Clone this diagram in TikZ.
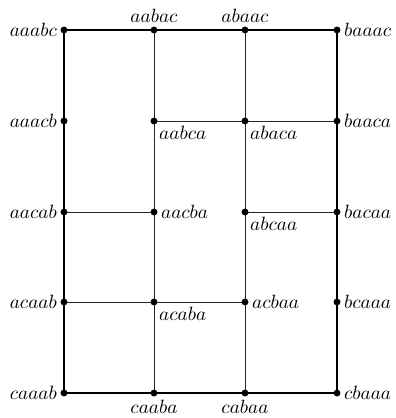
\documentclass[tikz,border=0pt]{standalone}
\begin{document}
\begin{tikzpicture}[x=0.52pt,y=-0.52pt,
  dot/.style={circle,fill=black,inner sep=0pt,minimum size=3.6pt},
  outer/.style={line width=1.5pt},
  inner/.style={line width=0.5pt,black!85},
  lbl/.style={inner sep=2.5pt}]
\useasboundingbox (0,0) rectangle (396,418);
% grid coordinates
\foreach \n/\x/\y in {aaabc/64/30, aabac/154/30, abaac/245/30, baaac/337/30,
  aaacb/64/121, aabca/154/121, abaca/245/121, baaca/337/121,
  aacab/64/212, aacba/154/212, abcaa/245/212, bacaa/337/212,
  acaab/64/302, acaba/154/302, acbaa/245/302, bcaaa/337/302,
  caaab/64/393, caaba/154/393, cabaa/245/393, cbaaa/337/393}
  \coordinate (\n) at (\x,\y);
% inner lines
\draw[inner] (aabac) -- (caaba);
\draw[inner] (abaac) -- (cabaa);
\draw[inner] (aabca) -- (baaca);
\draw[inner] (aacab) -- (aacba);
\draw[inner] (abcaa) -- (bacaa);
\draw[inner] (acaab) -- (acbaa);
% outer rectangle
\draw[outer] (aaabc) -- (baaac) -- (cbaaa) -- (caaab) -- cycle;
% dots
\foreach \n in {aaabc,aabac,abaac,baaac,aaacb,aabca,abaca,baaca,
  aacab,aacba,abcaa,bacaa,acaab,acaba,acbaa,bcaaa,caaab,caaba,cabaa,cbaaa}
  \node[dot] (d\n) at (\n) {};
% labels
\node[lbl,left=1pt] (laaabc) at (aaabc) {$aaabc$};
\node[lbl,above=1pt] (laabac) at (aabac) {$aabac$};
\node[lbl,above=1pt] (labaac) at (abaac) {$abaac$};
\node[lbl,right=1pt] (lbaaac) at (baaac) {$baaac$};
\node[lbl,left=1pt] (laaacb) at (aaacb) {$aaacb$};
\node[lbl,below right=0pt] (laabca) at (aabca) {$aabca$};
\node[lbl,below right=0pt] (labaca) at (abaca) {$abaca$};
\node[lbl,right=1pt] (lbaaca) at (baaca) {$baaca$};
\node[lbl,left=1pt] (laacab) at (aacab) {$aacab$};
\node[lbl,right=1pt] (laacba) at (aacba) {$aacba$};
\node[lbl,below right=0pt] (labcaa) at (abcaa) {$abcaa$};
\node[lbl,right=1pt] (lbacaa) at (bacaa) {$bacaa$};
\node[lbl,left=1pt] (lacaab) at (acaab) {$acaab$};
\node[lbl,below right=0pt] (lacaba) at (acaba) {$acaba$};
\node[lbl,right=1pt] (lacbaa) at (acbaa) {$acbaa$};
\node[lbl,right=1pt] (lbcaaa) at (bcaaa) {$bcaaa$};
\node[lbl,left=1pt] (lcaaab) at (caaab) {$caaab$};
\node[lbl,below=1pt] (lcaaba) at (caaba) {$caaba$};
\node[lbl,below=1pt] (lcabaa) at (cabaa) {$cabaa$};
\node[lbl,right=1pt] (lcbaaa) at (cbaaa) {$cbaaa$};
\end{tikzpicture}
\end{document}
